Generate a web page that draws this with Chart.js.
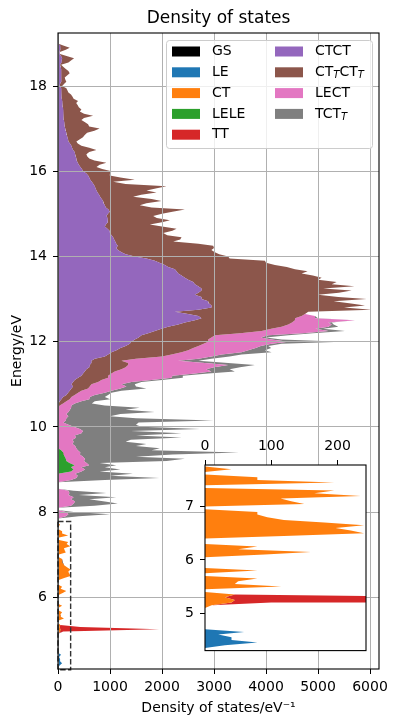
<!DOCTYPE html>
<html>
<head>
<meta charset="utf-8">
<title>Density of states</title>
<script src="https://cdn.jsdelivr.net/npm/chart.js@4.4.1/dist/chart.umd.min.js"></script>
<style>
  html, body { margin: 0; padding: 0; background: #ffffff; }
  #wrap { position: relative; width: 399px; height: 728px; }
  #mainChart { position: absolute; left: 0; top: 0; }
  #insetChart { position: absolute; left: 170px; top: 430px; }
</style>
</head>
<body>
<div id="wrap">
  <canvas id="mainChart" width="399" height="728"></canvas>
  <canvas id="insetChart" width="205" height="235"></canvas>
</div>
<script>
// energy grid, 0.05 eV bins
var E_FIRST = 4.30;
var E_STEP = 0.05;
var E_COUNT = 300;
var energies = [];
for (var i = 0; i < E_COUNT; i++) {
    energies.push(Math.round((E_FIRST + i * E_STEP) * 100) / 100);
}

// density of states (1/eV) of each state type, from the "From" energy upward
var gsFrom = 4.30;
var gsDos = [];

var leFrom = 4.35;
var leDos = [0, 30, 79, 40, 40, 20, 59, 0];

var ctFrom = 5.15;
var ctDos = [
    10, 40, 45, 30, 45, 0, 0, 115, 45, 50,
    79, 0, 0, 79, 0, 0, 0, 0, 0, 90,
    160, 50, 79, 0, 0, 0, 119, 240, 220, 197,
    240, 180, 119, 94, 79, 79, 0, 0, 150, 130,
    114, 235, 165, 195, 0, 0, 195, 79, 79, 0,
    0, 40, 0
];

var leleFrom = 8.90;
var leleDos = [0, 250, 300, 250, 320, 220, 160, 150, 130, 110, 100, 60, 0];

var ttFrom = 5.15;
var ttDos = [0, 60, 1900, 400, 0];

var ctctFrom = 10.50;
var ctctDos = [
    13, 13, 33, 65, 97, 161, 193, 225, 257, 289,
    257, 289, 321, 386, 450, 482, 514, 546, 600, 610,
    642, 642, 707, 900, 963, 1027, 1124, 1200, 1300, 1380,
    1412, 1476, 1550, 1605, 1733, 1862, 1990, 2118, 2311, 2439,
    2632, 2760, 2700, 2500, 2247, 2696, 2952, 2952, 2900, 2888,
    2760, 2760, 2632, 2700, 2760, 2760, 2696, 2632, 2600, 2503,
    2439, 2375, 2311, 2280, 2247, 2118, 2054, 1950, 1862, 1700,
    1476, 1300, 1220, 1150, 1120, 1150, 1120, 1100, 1080, 1060,
    1030, 1000, 990, 950, 900, 920, 960, 960, 950, 931,
    960, 995, 970, 920, 900, 880, 867, 840, 810, 790,
    760, 740, 720, 707, 680, 650, 620, 600, 580, 540,
    482, 460, 430, 400, 380, 360, 354, 340, 330, 320,
    290, 270, 257, 230, 200, 193, 180, 170, 160, 150,
    140, 130, 125, 120, 115, 110, 110, 105, 100, 97,
    95, 90, 85, 80, 75, 70, 65, 65, 65, 60,
    30, 40, 60, 65, 65, 60, 60, 65, 60, 50,
    40, 65, 70, 80, 60, 30, 30, 40, 50, 40
];

var cttcttFrom = 10.50;
var cttcttDos = [
    20, 84, 128, 160, 160, 160, 193, 225, 321, 321,
    385, 482, 514, 577, 513, 545, 577, 674, 700, 738,
    706, 578, 793, 1100, 1220, 1348, 1379, 1400, 1400, 1420,
    1476, 1412, 1400, 1412, 1767, 2053, 2110, 2182, 2117, 2061,
    1925, 1797, 1985, 2250, 2566, 3336, 2548, 2952, 2700, 2412,
    3176, 2631, 2368, 2700, 2887, 2340, 3004, 2631, 2759, 2497,
    2631, 2525, 2374, 2520, 2310, 2282, 2118, 2050, 2117, 1600,
    1797, 1800, 1797, 1800, 1880, 1835, 1580, 1116, 1270, 1316,
    1070, 1023, 1210, 1330, 1100, 846, 1040, 1192, 950, 899,
    1040, 1205, 1471, 880, 673, 820, 1124, 960, 635, 810,
    1135, 962, 1180, 1380, 620, 410, 857, 600, 415, 460,
    546, 390, 310, 400, 551, 340, 246, 220, 216, 280,
    449, 330, 193, 150, 153, 227, 300, 344, 400, 550,
    660, 470, 453, 400, 335, 390, 564, 395, 320, 353,
    305, 290, 265, 305, 225, 210, 185, 135, 115, 101,
    50, 80, 100, 75, 64, 120, 165, 135, 90, 50,
    20, 135, 180, 229, 120, 10, 5, 110, 175, 60
];

var lectFrom = 7.90;
var lectDos = [
    150, 200, 150, 0, 0, 250, 300, 330, 250, 300,
    200, 220, 200, 0, 0, 0, 0, 250, 350, 380,
    330, 200, 220, 200, 280, 330, 340, 370, 350, 310,
    330, 320, 350, 330, 280, 300, 280, 350, 320, 450,
    480, 420, 300, 200, 100, 150, 160, 200, 160, 200,
    230, 250, 224, 224, 289, 375, 353, 386, 513, 577,
    622, 706, 578, 641, 962, 1220, 1237, 1605, 1859, 1630,
    1700, 1925, 1476, 1091, 1200, 950, 962, 1155, 1155, 1200,
    1200, 1300, 1540, 1219, 950, 1026, 1200, 1285, 850, 900,
    835, 698, 1155, 385, 257
];

var tcttFrom = 7.90;
var tcttDos = [
    250, 800, 150, 0, 0, 450, 850, 570, 350, 820,
    200, 710, 100, 0, 0, 0, 0, 650, 1600, 620,
    1110, 350, 680, 450, 520, 250, 1590, 1920, 1020, 1780,
    3050, 1420, 1610, 1170, 1420, 1000, 1120, 2030, 1180, 1925,
    920, 2310, 1300, 1300, 1450, 2840, 1340, 800, 1040, 1660,
    1070, 1320, 642, 329, 257, 400, 290, 256, 128, 193,
    500, 184, 256, 193, 203, 217, 200, 256, 450, 450,
    500, 514, 449, 389, 250, 350, 385, 577, 321, 300,
    143, 200, 1027, 193, 100, 385, 200, 319, 150, 191,
    37, 65, 0, 58, 0
];

var stateNames = ['GS', 'LE', 'CT', 'LELE', 'TT', 'CTCT', 'CT_TCT_T', 'LECT', 'TCT_T'];
var stateColors = ['#000000', '#1f77b4', '#ff7f0e', '#2ca02c', '#d62728',
                   '#9467bd', '#8c564b', '#e377c2', '#7f7f7f'];
var stateFrom = [gsFrom, leFrom, ctFrom, leleFrom, ttFrom, ctctFrom, cttcttFrom, lectFrom, tcttFrom];
var stateDos = [gsDos, leDos, ctDos, leleDos, ttDos, ctctDos, cttcttDos, lectDos, tcttDos];

var mainXTicks = [0, 1000, 2000, 3000, 4000, 5000, 6000];
var mainYTicks = [6, 8, 10, 12, 14, 16, 18];
var insetXTicks = [0, 100, 200];
var insetYTicks = [5, 6, 7];

// axis limits
var mainXMax = 6173, mainYMin = 4.317, mainYMax = 19.244;
var insetXMax = 243, insetYMin = 4.30, insetYMax = 7.78;

Chart.defaults.font.family = '"DejaVu Sans", sans-serif';
Chart.defaults.font.size = 14;
Chart.defaults.color = '#000000';

function onGrid(from, vals) {
    var out = energies.map(function () { return 0; });
    var k0 = Math.round((from - E_FIRST) / E_STEP);
    vals.forEach(function (v, k) { out[k0 + k] = v; });
    return out;
}

// cumulative curves, each band filled down to the previous curve
function stackedDatasets() {
    var running = energies.map(function () { return 0; });
    return stateNames.map(function (name, s) {
        var dos = onGrid(stateFrom[s], stateDos[s]);
        running = running.map(function (r, i) { return r + dos[i]; });
        return {
            label: name,
            data: energies.map(function (e, i) { return {x: running[i], y: e}; }),
            backgroundColor: stateColors[s],
            borderColor: 'rgba(0,0,0,0)',
            borderWidth: 0,
            pointRadius: 0,
            pointHoverRadius: 0,
            fill: s === 0 ? 'origin' : '-1',
            tension: 0
        };
    });
}

function setTicks(values) {
    return function (scale) {
        scale.ticks = values.map(function (v) { return {value: v}; });
    };
}

function drawLabel(ctx, text, x, y) {
    var parts = text.split('_');
    ctx.textBaseline = 'middle';
    ctx.textAlign = 'left';
    ctx.fillStyle = '#000000';
    parts.forEach(function (part, k) {
        var body = part;
        if (k > 0) {
            ctx.font = 'italic 10px "DejaVu Sans"';
            ctx.fillText(part[0], x, y + 3.5);
            x += ctx.measureText(part[0]).width;
            body = part.slice(1);
        }
        ctx.font = '14px "DejaVu Sans"';
        ctx.fillText(body, x, y);
        x += ctx.measureText(body).width;
    });
}

var mainDecor = {
    id: 'mainDecor',
    afterDraw: function (chart) {
        var ctx = chart.ctx;
        var a = chart.chartArea;
        var xs = chart.scales.x, ys = chart.scales.y;
        ctx.save();
        // inset indicator
        var x0 = xs.getPixelForValue(0), x1 = xs.getPixelForValue(insetXMax);
        var yb = ys.getPixelForValue(insetYMin), yt = ys.getPixelForValue(insetYMax);
        ctx.setLineDash([5.5, 2.4]);
        ctx.strokeStyle = '#333333';
        ctx.lineWidth = 1.4;
        ctx.strokeRect(x0, yt, x1 - x0, yb - yt);
        ctx.setLineDash([]);
        // frame
        ctx.strokeStyle = '#000000';
        ctx.lineWidth = 1.1;
        ctx.strokeRect(a.left, a.top, a.right - a.left, a.bottom - a.top);
        // legend
        ctx.beginPath();
        if (ctx.roundRect) ctx.roundRect(166.5, 40.5, 206, 108, 3);
        else ctx.rect(166.5, 40.5, 206, 108);
        ctx.fillStyle = 'rgba(255,255,255,0.8)';
        ctx.fill();
        ctx.strokeStyle = '#cccccc';
        ctx.lineWidth = 1;
        ctx.stroke();
        stateNames.forEach(function (name, s) {
            var col = s < 5 ? 0 : 1;
            var row = s < 5 ? s : s - 5;
            var x = col === 0 ? 172 : 275;
            var y = 51.5 + row * 20.8;
            ctx.fillStyle = stateColors[s];
            ctx.fillRect(x, y - 5, 28, 10);
            drawLabel(ctx, name, x + 40, y);
        });
        ctx.restore();
    }
};

var insetDecor = {
    id: 'insetDecor',
    beforeDraw: function (chart) {
        var a = chart.chartArea;
        chart.ctx.save();
        chart.ctx.fillStyle = '#ffffff';
        chart.ctx.fillRect(a.left, a.top, a.right - a.left, a.bottom - a.top);
        chart.ctx.restore();
    },
    afterDraw: function (chart) {
        var a = chart.chartArea;
        var ctx = chart.ctx;
        ctx.save();
        ctx.strokeStyle = '#000000';
        ctx.lineWidth = 1.1;
        ctx.strokeRect(a.left, a.top, a.right - a.left, a.bottom - a.top);
        ctx.restore();
    }
};

new Chart(document.getElementById('mainChart'), {
    type: 'line',
    data: {datasets: stackedDatasets()},
    options: {
        responsive: false,
        animation: false,
        devicePixelRatio: 1,
        indexAxis: 'y',
        layout: {padding: {top: 0, right: 20, bottom: 0, left: 0}},
        plugins: {
            legend: {display: false},
            tooltip: {enabled: false},
            title: {
                display: true,
                text: 'Density of states',
                fullSize: false,
                font: {size: 17, weight: 'normal'},
                color: '#000000',
                padding: {top: 8, bottom: 4.6}
            }
        },
        scales: {
            x: {
                type: 'linear',
                position: 'bottom',
                min: 0,
                max: mainXMax,
                afterBuildTicks: setTicks(mainXTicks),
                afterFit: function (s) { s.height = 59; },
                ticks: {padding: 5, maxRotation: 0, autoSkip: false,
                        callback: function (v) { return String(v); }},
                grid: {color: '#b0b0b0', lineWidth: 1, tickLength: 5, tickColor: '#000000', z: 1},
                border: {display: false},
                title: {display: true, text: 'Density of states/eV\u207b\u00b9',
                        font: {size: 14}, padding: {top: 0, bottom: 11.6}}
            },
            y: {
                type: 'linear',
                position: 'left',
                min: mainYMin,
                max: mainYMax,
                afterBuildTicks: setTicks(mainYTicks),
                afterFit: function (s) { s.width = 58; },
                ticks: {padding: 6, callback: function (v) { return String(v); }},
                grid: {color: '#b0b0b0', lineWidth: 1, tickLength: 5, tickColor: '#000000', z: 1},
                border: {display: false},
                title: {display: true, text: 'Energy/eV',
                        font: {size: 14}, padding: {top: 8.6, bottom: 0}}
            }
        }
    },
    plugins: [mainDecor]
});

new Chart(document.getElementById('insetChart'), {
    type: 'line',
    data: {datasets: stackedDatasets()},
    options: {
        responsive: false,
        animation: false,
        devicePixelRatio: 1,
        indexAxis: 'y',
        layout: {padding: {top: 0, right: 9, bottom: 9, left: 0}},
        plugins: {legend: {display: false}, tooltip: {enabled: false}},
        scales: {
            x: {
                type: 'linear',
                position: 'top',
                min: 0,
                max: insetXMax,
                afterBuildTicks: setTicks(insetXTicks),
                afterFit: function (s) { s.height = 35; },
                ticks: {padding: 5.5, maxRotation: 0, autoSkip: false,
                        callback: function (v) { return String(v); }},
                grid: {drawOnChartArea: false, tickLength: 5, tickColor: '#000000'},
                border: {display: false}
            },
            y: {
                type: 'linear',
                position: 'left',
                min: insetYMin,
                max: insetYMax,
                afterBuildTicks: setTicks(insetYTicks),
                afterFit: function (s) { s.width = 35; },
                ticks: {padding: 6, callback: function (v) { return String(v); }},
                grid: {drawOnChartArea: false, tickLength: 5, tickColor: '#000000'},
                border: {display: false}
            }
        }
    },
    plugins: [insetDecor]
});
</script>
</body>
</html>
